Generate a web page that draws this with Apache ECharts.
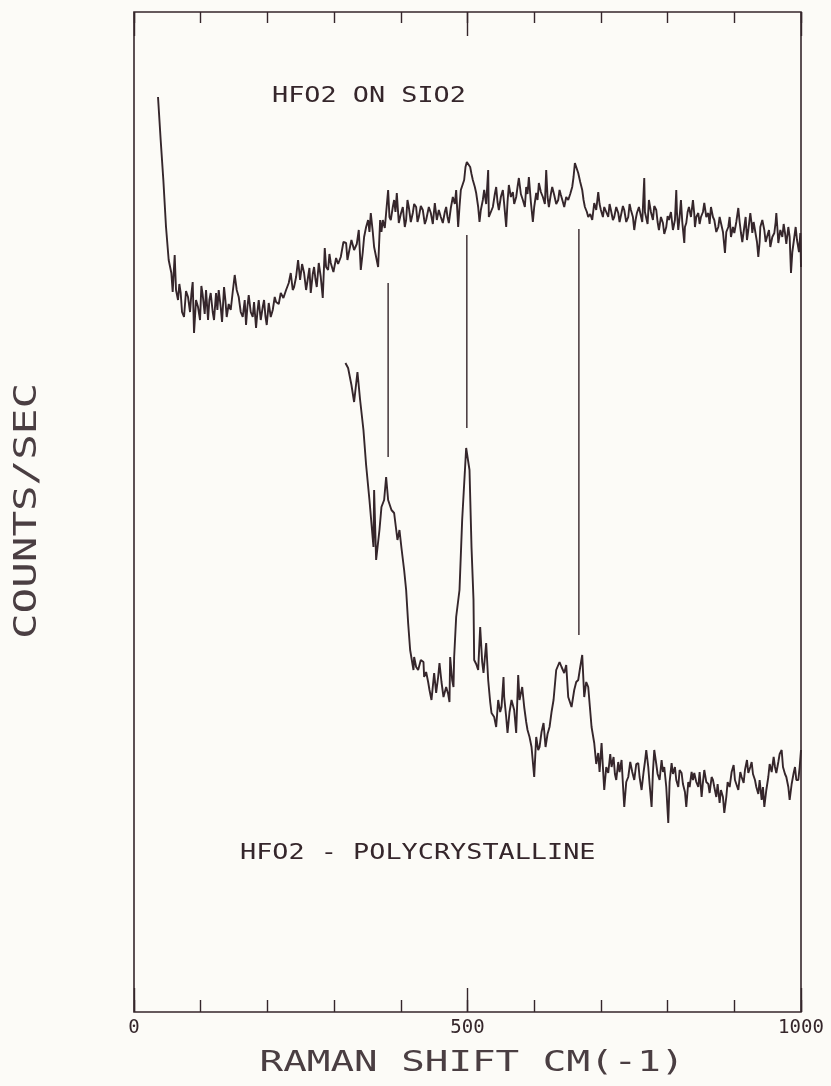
<!DOCTYPE html>
<html>
<head>
<meta charset="utf-8">
<script src="https://cdn.jsdelivr.net/npm/echarts@6/dist/echarts.min.js"></script>
<style>
  html, body { margin: 0; padding: 0; background: #fcfbf7; }
  #chart { width: 831px; height: 1086px; }
</style>
</head>
<body>
<div id="chart"></div>
<script>
// HfO2 on SiO2 (upper trace): [raman shift, counts]
var topTrace = [
  [36,915],[40,872],[44,832],[48,785],[52,752],[56,739],[58,720],[61,757],[63,722],[66,712],[68,728],[70,719],
  [72,700],[75,695],[78,721],[81,715],[84,700],[86,718],[88,730],[90,679],[93,712],[96,705],[99,692],[101,726],
  [103,717],[106,698],[108,722],[111,692],[113,712],[115,719],[118,700],[120,692],[123,719],[125,702],[127,722],
  [130,705],[132,690],[135,725],[137,712],[139,695],[142,708],[145,702],[148,720],[151,737],[154,722],[157,715],
  [160,700],[163,695],[166,712],[168,687],[170,705],[172,717],[175,700],[178,695],[180,710],[183,684],[185,700],
  [187,712],[190,692],[193,705],[195,712],[197,696],[199,687],[202,709],[205,695],[208,702],[211,715],[213,710],
  [217,708],[220,719],[224,714],[228,722],[232,729],[235,739],[238,722],[240,725],[243,735],[246,752],[249,732],
  [252,748],[255,739],[258,722],[261,735],[263,744],[265,719],[268,738],[270,745],[272,733],[274,725],[277,749],
  [280,735],[283,714],[286,764],[288,745],[291,742],[293,758],[295,749],[299,740],[303,754],[306,748],[310,755],
  [314,770],[318,769],[320,752],[322,759],[326,772],[330,762],[334,768],[337,782],[340,742],[343,760],[345,775],
  [348,785],[351,792],[353,780],[355,799],[358,780],[360,765],[363,755],[366,745],[369,792],[371,780],[373,792],
  [376,784],[378,799],[381,822],[383,795],[385,792],[388,805],[390,812],[392,800],[394,819],[397,789],[400,798],
  [403,805],[406,785],[408,792],[410,812],[412,805],[415,790],[418,799],[420,808],[423,805],[425,790],[427,795],
  [430,806],[433,802],[436,788],[438,792],[442,805],[445,799],[448,788],[451,809],[454,792],[457,802],[460,795],
  [463,789],[466,800],[468,805],[470,795],[472,789],[475,804],[478,815],[481,808],[483,822],[486,785],[488,805],
  [490,822],[493,828],[495,832],[497,845],[499,850],[501,848],[504,845],[506,838],[508,832],[511,825],[513,819],
  [516,805],[518,790],[520,802],[523,812],[525,822],[528,808],[531,842],[532,795],[535,800],[538,805],[541,818],
  [543,825],[545,810],[547,802],[550,815],[553,822],[555,808],[558,785],[560,810],[562,827],[565,815],[568,820],
  [570,808],[573,815],[575,825],[577,834],[580,818],[583,812],[586,805],[588,825],[590,818],[592,835],[595,810],
  [598,790],[600,805],[603,819],[605,812],[607,829],[610,820],[613,815],[616,808],[618,842],[620,815],[622,805],
  [625,818],[627,825],[630,817],[633,808],[636,812],[638,822],[640,817],[643,810],[645,805],[648,815],[651,812],
  [654,818],[657,825],[659,835],[661,849],[663,845],[666,839],[669,830],[672,822],[674,812],[676,805],[679,800],
  [681,795],[684,798],[687,792],[690,809],[693,802],[696,820],[698,808],[700,802],[703,795],[705,805],[708,800],
  [711,795],[713,808],[715,802],[718,792],[720,795],[723,805],[726,799],[728,790],[730,792],[733,806],[735,802],
  [738,790],[741,795],[743,808],[745,802],[748,795],[750,782],[752,792],[754,799],[757,805],[759,805],[762,790],
  [765,834],[766,800],[768,799],[770,788],[772,812],[775,800],[778,792],[780,806],[783,802],[785,790],[787,782],
  [790,795],[793,789],[795,778],[798,785],[800,796],[802,792],[805,800],[808,782],[811,792],[813,822],[814,800],
  [816,782],[818,795],[820,812],[822,790],[825,769],[826,785],[828,789],[830,800],[832,805],[835,795],[838,812],
  [840,798],[841,785],[843,795],[846,799],[848,788],[850,795],[853,800],[855,809],[858,795],[861,799],[863,788],
  [865,805],[868,795],[870,792],[873,780],[876,785],[878,795],[880,789],[883,780],[886,759],[888,780],[891,785],
  [893,795],[895,775],[898,785],[900,779],[903,790],[906,804],[908,790],[910,779],[912,770],[915,785],[917,795],
  [919,772],[921,782],[924,799],[926,788],[927,779],[929,790],[931,782],[934,770],[936,755],[938,770],[939,785],
  [942,792],[945,782],[947,770],[949,775],[952,782],[954,765],[957,775],[960,779],[962,790],[963,799],[965,780],
  [966,769],[969,782],[972,775],[974,788],[976,779],[978,768],[981,785],[983,775],[985,739],[987,760],[990,775],
  [992,785],[994,772],[997,760],[999,779],[1000,745]
];

// HfO2 polycrystalline (lower trace)
var botTrace = [
  [317,649],[321,644],[326,627],[330,610],[335,640],[339,612],[344,582],[348,547],[353,512],[359,465],[360,522],
  [363,452],[368,482],[371,505],[375,512],[378,535],[381,512],[386,502],[390,499],[395,472],[398,482],[401,464],
  [405,442],[408,422],[411,389],[414,362],[419,342],[420,355],[423,345],[426,342],[430,352],[434,350],[435,335],
  [438,340],[441,330],[443,322],[446,312],[450,339],[453,319],[456,335],[458,349],[461,330],[464,315],[468,325],
  [471,318],[473,310],[474,355],[477,332],[479,325],[480,355],[483,395],[488,422],[492,492],[498,564],[503,542],
  [506,465],[509,412],[510,352],[513,348],[516,342],[519,385],[522,350],[524,339],[528,369],[531,332],[534,310],
  [536,299],[540,295],[543,285],[546,312],[549,300],[551,305],[554,335],[555,315],[558,295],[560,279],[563,300],
  [566,312],[570,302],[573,279],[576,337],[578,312],[582,325],[585,305],[588,290],[590,282],[593,275],[596,265],
  [600,235],[603,275],[606,262],[608,265],[611,280],[614,289],[617,265],[620,278],[623,285],[626,300],[629,312],
  [633,342],[638,350],[641,345],[645,339],[648,347],[651,315],[656,305],[660,322],[663,330],[666,332],[669,345],
  [672,357],[675,315],[678,330],[681,325],[686,285],[690,269],[693,248],[696,259],[698,240],[701,269],[703,245],
  [705,222],[708,245],[711,239],[714,258],[716,245],[719,255],[721,238],[723,232],[726,250],[728,240],[731,252],
  [733,228],[735,205],[738,230],[741,235],[744,250],[747,240],[750,232],[753,248],[756,249],[758,235],[761,222],
  [764,240],[766,250],[768,262],[771,245],[773,228],[776,205],[778,240],[780,262],[783,248],[785,238],[788,232],
  [791,252],[793,240],[795,245],[798,225],[801,189],[803,230],[806,249],[808,238],[811,245],[813,232],[816,225],
  [818,242],[821,239],[823,228],[826,220],[828,205],[831,230],[833,225],[836,240],[838,232],[840,239],[843,230],
  [846,225],[848,240],[851,215],[853,230],[855,242],[858,230],[861,228],[863,219],[866,235],[868,232],[870,225],
  [873,215],[875,228],[878,209],[880,222],[883,215],[885,199],[888,215],[890,230],[893,225],[896,240],[899,247],
  [901,232],[903,228],[906,222],[909,240],[911,235],[914,229],[916,242],[919,252],[921,239],[924,245],[926,250],
  [928,238],[931,232],[933,225],[936,218],[938,232],[941,212],[943,225],[945,205],[948,222],[951,235],[953,248],
  [956,240],[959,255],[961,245],[963,239],[966,250],[968,258],[971,262],[973,245],[976,238],[978,235],[981,225],
  [983,212],[986,228],[989,239],[991,245],[993,232],[996,232],[998,245],[1000,262]
];

// vertical peak markers
var markX = [381, 499, 667];
var markTop = [729, 777, 783];
var markBottom = [555, 584, 377];

var xTicks = [0, 500, 1000];

var ink = '#35262b';
var font = 'DejaVu Sans Mono';

var myChart = echarts.init(document.getElementById('chart'));

var series = [
  { type: 'line', data: topTrace },
  { type: 'line', data: botTrace }
];
for (var i = 0; i < markX.length; i++) {
  series.push({
    type: 'line',
    data: [[markX[i], markTop[i]], [markX[i], markBottom[i]]],
    lineStyle: { width: 1.4 }
  });
}
series.forEach(function (s) {
  s.symbol = 'none';
  s.silent = true;
  s.xAxisIndex = 0;
  s.lineStyle = Object.assign({ color: ink, width: 1.9 }, s.lineStyle || {});
});

function tickAxis(pos, interval, len, labels) {
  return {
    type: 'value', position: pos, min: 0, max: 1000, interval: interval,
    axisLine: { show: false },
    axisTick: { show: true, inside: true, length: len, lineStyle: { color: ink, width: 1.4 } },
    splitLine: { show: false },
    axisLabel: labels ? {
      show: true, color: ink, fontFamily: font, fontSize: 19, margin: 7,
      formatter: function (v) { return xTicks.indexOf(v) >= 0 ? String(v) : ''; }
    } : { show: false }
  };
}

myChart.setOption({
  backgroundColor: '#fcfbf7',
  animation: false,
  grid: {
    left: 134, right: 30, top: 12, bottom: 74,
    show: true, borderColor: ink, borderWidth: 1.6, backgroundColor: 'transparent'
  },
  xAxis: [
    tickAxis('bottom', 100, 12, true),
    tickAxis('bottom', 500, 24, false),
    tickAxis('top', 100, 11, false),
    tickAxis('top', 500, 24, false)
  ],
  yAxis: { type: 'value', min: 0, max: 1000, show: false },
  graphic: [
    {
      type: 'text', x: 272, y: 85, scaleX: 1.22,
      style: { text: 'HFO2 ON SIO2', font: '22px "' + font + '"', fill: ink }
    },
    {
      type: 'text', x: 240, y: 842, scaleX: 1.22,
      style: { text: 'HFO2 - POLYCRYSTALLINE', font: '22px "' + font + '"', fill: ink }
    },
    {
      type: 'text', x: 472, y: 1064, scaleX: 1.4,
      style: { text: 'RAMAN SHIFT CM(-1)', font: '28px "' + font + '"', fill: '#4a3e42',
               align: 'center', verticalAlign: 'middle' }
    },
    {
      type: 'text', x: 28, y: 511, rotation: Math.PI / 2, scaleX: 1.33,
      style: { text: 'COUNTS/SEC', font: '32px "' + font + '"', fill: '#4a3e42',
               align: 'center', verticalAlign: 'middle' }
    }
  ],
  series: series
});
</script>
</body>
</html>
